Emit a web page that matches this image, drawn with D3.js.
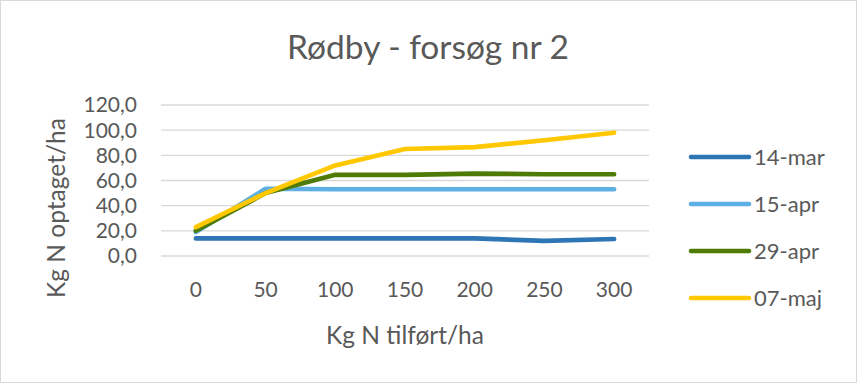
<!DOCTYPE html>
<html>
<head>
<meta charset="utf-8">
<script src="https://cdn.jsdelivr.net/npm/d3@7"></script>
<style>
  body { margin: 0; background: #fff; }
  text { font-family: Lato, 'Open Sans', sans-serif; fill: #595959; }
</style>
</head>
<body>
<div id="chart"></div>
<script>
// data
const doses = ['0', '50', '100', '150', '200', '250', '300']
const yTicks = [0, 20, 40, 60, 80, 100, 120]
const seriesNames = ['14-mar', '15-apr', '29-apr', '07-maj']
const mar14 = [14, 14, 14, 14, 14, 12, 13.5]
const apr15 = [19, 53.5, 53, 53, 53, 53, 53]
const apr29 = [20, 50, 64.5, 64.5, 65.5, 65, 65]
const maj07 = [23, 50, 72, 85, 86.5, 92, 98]

const colours = ['#2e75b6', '#5dafe4', '#4e7a06', '#ffc800']
const allSeries = [mar14, apr15, apr29, maj07]

const width = 857
const height = 383

const svg = d3.select('#chart').append('svg')
    .attr('width', width)
    .attr('height', height)

// outer frame
svg.append('rect')
    .attr('x', 0.5).attr('y', 0.5)
    .attr('width', width - 1).attr('height', height - 1)
    .style('fill', '#fff')
    .style('stroke', '#d9d9d9')

const plot = { left: 161, right: 649, top: 105, bottom: 256 }

let x = d3.scaleBand()
    .domain(doses)
    .range([plot.left, plot.right])

let y = d3.scaleLinear()
    .domain([0, 120])
    .range([plot.bottom, plot.top])

// gridlines
svg.append('g')
    .selectAll('line')
    .data(yTicks)
    .enter().append('line')
    .attr('x1', plot.left)
    .attr('x2', plot.right)
    .attr('y1', d => y(d))
    .attr('y2', d => y(d))
    .style('stroke', '#d9d9d9')
    .style('stroke-width', 1.3)

// y tick labels
svg.append('g')
    .selectAll('text')
    .data(yTicks)
    .enter().append('text')
    .attr('x', 137)
    .attr('y', d => y(d))
    .attr('dy', '0.35em')
    .style('text-anchor', 'end')
    .style('font-size', '21px')
    .text(d => d3.format('.1f')(d).replace('.', ','))

// x tick labels
svg.append('g')
    .selectAll('text')
    .data(doses)
    .enter().append('text')
    .attr('x', d => x(d) + x.bandwidth() / 2)
    .attr('y', 297)
    .style('text-anchor', 'middle')
    .style('font-size', '21px')
    .text(d => d)

// title + axis titles
svg.append('text')
    .attr('x', 428)
    .attr('y', 59)
    .style('text-anchor', 'middle')
    .style('font-size', '33.5px')
    .text('Rødby - forsøg nr 2')

svg.append('text')
    .attr('x', 405)
    .attr('y', 344)
    .style('text-anchor', 'middle')
    .style('font-size', '24.5px')
    .text('Kg N tilført/ha')

svg.append('text')
    .attr('transform', 'translate(65,208) rotate(-90)')
    .style('text-anchor', 'middle')
    .style('font-size', '24.5px')
    .text('Kg N optaget/ha')

// series lines
let line = d3.line()
    .x((d, i) => x(doses[i]) + x.bandwidth() / 2)
    .y(d => y(d))

svg.append('g')
    .selectAll('path')
    .data(allSeries)
    .enter().append('path')
    .attr('d', line)
    .style('fill', 'none')
    .style('stroke', (d, i) => colours[i])
    .style('stroke-width', 4.6)
    .style('stroke-linecap', 'round')
    .style('stroke-linejoin', 'round')

// legend
const legendY = [157, 204, 251, 298]
let legend = svg.append('g')
    .selectAll('g')
    .data(seriesNames)
    .enter().append('g')
    .attr('transform', (d, i) => 'translate(0,' + legendY[i] + ')')

legend.append('line')
    .attr('x1', 691)
    .attr('x2', 749)
    .style('stroke', (d, i) => colours[i])
    .style('stroke-width', 4.6)
    .style('stroke-linecap', 'round')

legend.append('text')
    .attr('x', 754)
    .attr('dy', '0.35em')
    .style('font-size', '22px')
    .text(d => d)
</script>
</body>
</html>
